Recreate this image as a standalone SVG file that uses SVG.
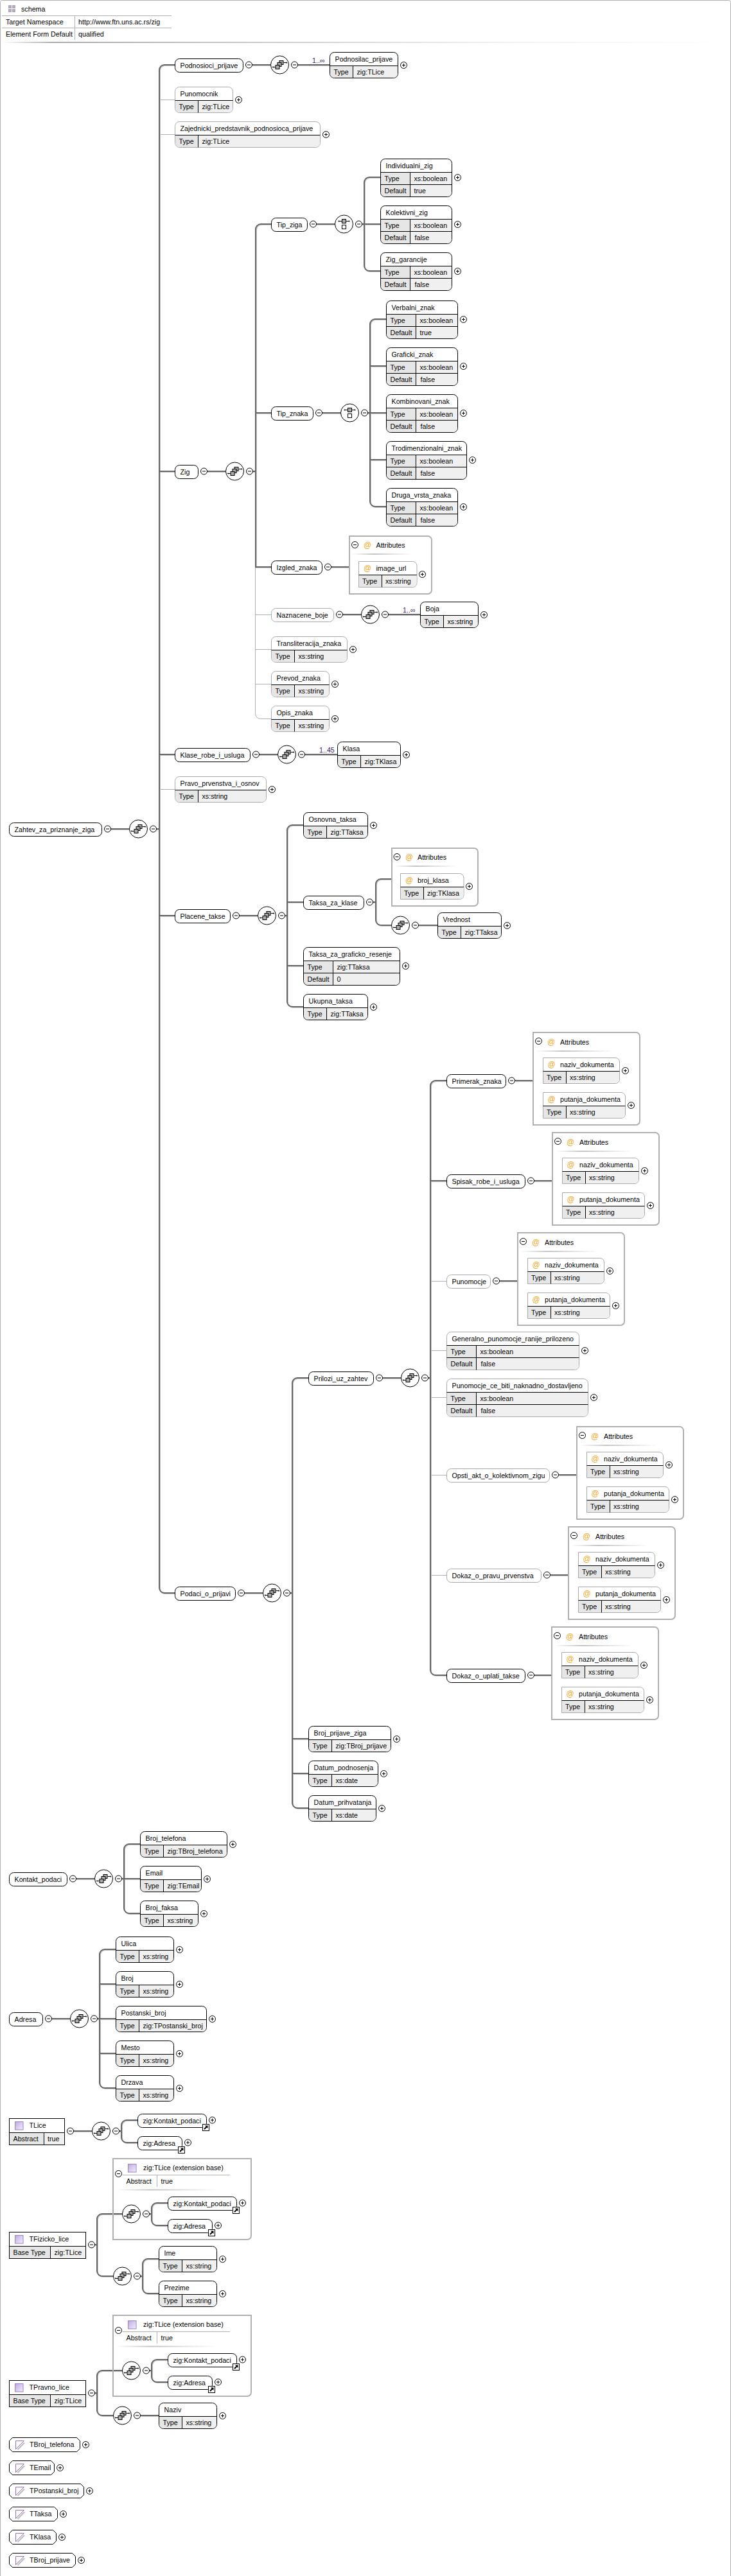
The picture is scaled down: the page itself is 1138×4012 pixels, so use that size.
<svg xmlns="http://www.w3.org/2000/svg" width="1138" height="4012" viewBox="0 0 1138 4012">
<style>
text{font-family:"Liberation Sans",Arial,sans-serif;font-size:10.7px;fill:#000}
.b{fill:#fff;stroke-width:1}
.r .b{stroke:#000}
.o .b{stroke:#aaa}
.v{fill:#f0f0f0}
.l{fill:#e6e6e6}
.d{fill:none;stroke:#000}
.c{fill:none;stroke:#666;stroke-width:2;filter:drop-shadow(1px 1px 0 #c8c8c8)}
.t{fill:none;stroke:#b0b0b0}
.x{fill:none;stroke:#b0b0b0;stroke-width:2}
.at{fill:#f5a623;font-size:12px}
.bar{fill:url(#gb)}
.occ{fill:#3c1a6e}
.g{fill:none;stroke:#b0b0b0}
.ts{fill:url(#gp);stroke:#a080c8}
.rc{fill:#fff;stroke:#000}
</style>
<defs>
<linearGradient id="gb"><stop offset="0" stop-color="#fff"/><stop offset=".35" stop-color="#c4c4c4"/><stop offset="1" stop-color="#fff"/></linearGradient>
<linearGradient id="gh"><stop offset="0" stop-color="#fff"/><stop offset=".07" stop-color="#aaa"/><stop offset=".7" stop-color="#f2f2f2"/><stop offset="1" stop-color="#fff"/></linearGradient>
<linearGradient id="gp" x1="0" y1="0" x2="1" y2="1"><stop offset="0" stop-color="#bdaae4"/><stop offset="1" stop-color="#f4f0fa"/></linearGradient>
<g id="p"><circle r="5" fill="#fff" stroke="#000"/><path d="M-2.5 0H2.5M0-2.5V2.5" stroke="#000"/></g>
<g id="m"><circle r="5" fill="#fff" stroke="#000"/><path d="M-2.5 0H2.5" stroke="#000"/></g>
<g id="s"><circle r="14" fill="#fff" stroke="#000"/><path d="M-10.5 3.5H-6M6 -3.5H10.5" stroke="#000"/><circle cx="-10.5" cy="3.5" r="1"/><circle cx="10.5" cy="-3.5" r="1"/><rect x="-.5" y="-6.5" width="6" height="6" fill="#aaa" stroke="#000"/><rect x="-3.5" y="-3.5" width="6" height="6" fill="#aaa" stroke="#000"/><rect x="-6.5" y=".5" width="6" height="6" fill="#aaa" stroke="#000"/></g>
<g id="ch"><circle r="14" fill="#fff" stroke="#000"/><path d="M-8 -4.5H8" stroke="#000"/><circle cx="-8" cy="-4.5" r="1"/><circle cx="8" cy="-4.5" r="1"/><rect x="-3" y="-7.5" width="6" height="6" fill="#aaa" stroke="#000"/><rect x="-3" y="1.5" width="6" height="6" fill="#fff" stroke="#000"/></g>
<g id="k"><rect width="10" height="10" fill="#fff" stroke="#000"/><path d="M2.5 7.5L6 4" stroke="#000" stroke-width="2"/><path d="M3.5 2H8V6.5Z"/></g>
<path id="l2" class="l" d="M.5 21H36V39.5H7a6.5 6.5 0 0 1-6.5-6.5z"/>
<path id="l3" class="l" d="M.5 21H46V58.5H7a6.5 6.5 0 0 1-6.5-6.5z"/>
<g id="st"><path d="M0 13V0H13Z" fill="#fff" stroke="#a070c0"/><path d="M3 13.5L13.5 3" stroke="#bbb" stroke-width="2"/></g>
</defs>

<path class="g" d="M.5 4012V3.5a3 3 0 0 1 3-3H1134.5a3 3 0 0 1 3 3V4012"/>

<g id="schema-header">
<rect x="13" y="8" width="5" height="5" fill="#b4a8bc"/><rect x="19" y="8" width="5" height="5" fill="#b4a8bc"/><rect x="13" y="14" width="5" height="5" fill="#b4a8bc"/><rect x="19" y="14" width="5" height="5" fill="#b4a8bc"/>
<text x="33" y="18">schema</text>
<path class="g" d="M3 24.5H267M3 43.5H267M116.5 24V62"/>
<text x="9" y="37.5">Target Namespace</text><text x="122" y="37.5">http://www.ftn.uns.ac.rs/zig</text>
<text x="9" y="56.5">Element Form Default</text><text x="122" y="56.5">qualified</text>
<rect x="3" y="65" width="1132" height="2" fill="url(#gh)"/>
</g>

<g id="connectors">
<g class="t">
<path d="M248 155.5H272M248 209.5H272M248 1229.5H272"/>
<path d="M397.5 883V1111.5a8 8 0 0 0 8 8H422M397.5 957.5H422M397.5 1011.5H422M397.5 1065.5H422"/>
<path d="M670 1995.5H695M670 2103.5H695M670 2176.5H695M670 2297.5H695M670 2453.5H695"/>
</g>
<g class="c">
<path d="M172 1291H201M243 1291H248"/>
<path d="M272 101H256a8 8 0 0 0-8 8V2473a8 8 0 0 0 8 8h16M248 734H272M248 1175H272M248 1426H272"/>
<path d="M392 101H421M463 101H513"/>
<path d="M322 734H351M393 734H398"/>
<path d="M422 349H406a8 8 0 0 0-8 8V883h24M398 643H422"/>
<path d="M492 349H521M563 349H567"/>
<path d="M592 276H575a8 8 0 0 0-8 8V414a8 8 0 0 0 8 8H592M567 349H592"/>
<path d="M501 643H530M572 643H576"/>
<path d="M601 497H584a8 8 0 0 0-8 8V781a8 8 0 0 0 8 8H601M576 570H601M576 643H601M576 716H601"/>
<path d="M515 883H543"/>
<path d="M533 957H562M604 957H654"/>
<path d="M403 1175H432M474 1175H525"/>
<path d="M372 1426H401M443 1426H447"/>
<path d="M472 1285H455a8 8 0 0 0-8 8V1560a8 8 0 0 0 8 8H472M447 1405H472M447 1504H472"/>
<path d="M580 1405H585M609 1369H593a8 8 0 0 0-8 8V1433a8 8 0 0 0 8 8H609"/>
<path d="M651 1441H681"/>
<path d="M380 2481H409M451 2481H455"/>
<path d="M480 2146H463a8 8 0 0 0-8 8V2808a8 8 0 0 0 8 8H480M455 2708H480M455 2762H480"/>
<path d="M595 2146H624M666 2146H670"/>
<path d="M695 1683H678a8 8 0 0 0-8 8V2601a8 8 0 0 0 8 8H695M670 1839H695"/>
<path d="M802 1683H830M831 1839H860M777 1995H806M870 2297H898M857 2453H885M831 2609H859"/>
<path d="M118 2926H147M189 2926H193"/>
<path d="M218 2872H201a8 8 0 0 0-8 8V2972a8 8 0 0 0 8 8H218M193 2926H218"/>
<path d="M80 3144H109M151 3144H155"/>
<path d="M180 3036H163a8 8 0 0 0-8 8V3244a8 8 0 0 0 8 8H180M155 3090H180M155 3144H180M155 3198H180"/>
<path d="M114 3319H143M185 3319H189"/>
<path d="M214 3302H197a8 8 0 0 0-8 8V3329a8 8 0 0 0 8 8H214"/>
<path d="M147 3496H151M190 3448H159a8 8 0 0 0-8 8V3537a8 8 0 0 0 8 8H176"/>
<path d="M232 3448H236M261 3431H244a8 8 0 0 0-8 8V3458a8 8 0 0 0 8 8H261"/>
<path d="M218 3545H222M247 3518H230a8 8 0 0 0-8 8V3564a8 8 0 0 0 8 8H247"/>
<path d="M147 3727H151M190 3692H159a8 8 0 0 0-8 8V3754a8 8 0 0 0 8 8H176"/>
<path d="M232 3692H236M261 3675H244a8 8 0 0 0-8 8V3702a8 8 0 0 0 8 8H261"/>
<path d="M218 3762H247"/>
</g>
<text class="occ" x="486" y="98">1..∞</text>
<text class="occ" x="627" y="954">1..∞</text>
<text class="occ" x="497" y="1172">1..45</text>
</g>

<g id="compositors">
<g id="c-root"><use href="#s" x="215.5" y="1291"/><use href="#m" x="238.5" y="1291"/></g>
<g id="c-podnosioci"><use href="#s" x="435.5" y="101"/><use href="#m" x="458.5" y="101"/></g>
<g id="c-zig"><use href="#s" x="365.5" y="734"/><use href="#m" x="388.5" y="734"/></g>
<g id="c-tipziga"><use href="#ch" x="535.5" y="349"/><use href="#m" x="558.5" y="349"/></g>
<g id="c-tipznaka"><use href="#ch" x="544.5" y="643"/><use href="#m" x="567.5" y="643"/></g>
<g id="c-boje"><use href="#s" x="576.5" y="957"/><use href="#m" x="599.5" y="957"/></g>
<g id="c-klase"><use href="#s" x="446.5" y="1175"/><use href="#m" x="469.5" y="1175"/></g>
<g id="c-placene"><use href="#s" x="415.5" y="1426"/><use href="#m" x="438.5" y="1426"/></g>
<g id="c-vrednost"><use href="#s" x="623.5" y="1441"/><use href="#m" x="646.5" y="1441"/></g>
<g id="c-podaci"><use href="#s" x="423.5" y="2481"/><use href="#m" x="446.5" y="2481"/></g>
<g id="c-prilozi"><use href="#s" x="638.5" y="2146"/><use href="#m" x="661.5" y="2146"/></g>
<g id="c-kontakt"><use href="#s" x="161.5" y="2926"/><use href="#m" x="184.5" y="2926"/></g>
<g id="c-adresa"><use href="#s" x="123.5" y="3144"/><use href="#m" x="146.5" y="3144"/></g>
<g id="c-tlice"><use href="#s" x="157.5" y="3319"/><use href="#m" x="180.5" y="3319"/></g>
<g id="c-fiz1"><use href="#s" x="204.5" y="3448"/><use href="#m" x="227.5" y="3448"/></g>
<g id="c-fiz2"><use href="#s" x="190.5" y="3545"/><use href="#m" x="213.5" y="3545"/></g>
<g id="c-prav1"><use href="#s" x="204.5" y="3692"/><use href="#m" x="227.5" y="3692"/></g>
<g id="c-prav2"><use href="#s" x="190.5" y="3762"/><use href="#m" x="213.5" y="3762"/></g>
</g>

<g id="Zahtev_za_priznanje_ziga" class="r" transform="translate(14.5 1281.5)"><rect class="b" width="144" height="21" rx="7"/><text x="8" y="14">Zahtev_za_priznanje_ziga</text><use href="#m" x="153" y="9.5"/></g>
<g id="Podnosioci_prijave" class="r" transform="translate(272.5 91.5)"><rect class="b" width="106" height="21" rx="7"/><text x="8" y="14">Podnosioci_prijave</text><use href="#m" x="115" y="9.5"/></g>
<g id="Podnosilac_prijave" class="r" transform="translate(513.5 81.5)"><rect class="b" width="106" height="40" rx="7"/><path class="v" d="M36 21H105.5V33a6.5 6.5 0 0 1-6.5 6.5H36z"/><use href="#l2"/><path class="d" d="M0 21H106M36 21V40"/><text x="8" y="14">Podnosilac_prijave</text><text x="6" y="34">Type</text><text x="42" y="34">zig:TLice</text><use href="#p" x="115" y="20"/></g>
<g id="Punomocnik" class="o" transform="translate(272.5 135.5)"><rect class="b" width="90" height="40" rx="7"/><path class="v" d="M36 21H89.5V33a6.5 6.5 0 0 1-6.5 6.5H36z"/><use href="#l2"/><path class="d" d="M0 21H90M36 21V40"/><text x="8" y="14">Punomocnik</text><text x="6" y="34">Type</text><text x="42" y="34">zig:TLice</text><use href="#p" x="99" y="20"/></g>
<g id="Zajednicki_predstavnik_podnosioca_prijave" class="o" transform="translate(272.5 189.5)"><rect class="b" width="226" height="40" rx="7"/><path class="v" d="M36 21H225.5V33a6.5 6.5 0 0 1-6.5 6.5H36z"/><use href="#l2"/><path class="d" d="M0 21H226M36 21V40"/><text x="8" y="14">Zajednicki_predstavnik_podnosioca_prijave</text><text x="6" y="34">Type</text><text x="42" y="34">zig:TLice</text><use href="#p" x="235" y="20"/></g>
<g id="Zig" class="r" transform="translate(272.5 724.5)"><rect class="b" width="36" height="21" rx="7"/><text x="8" y="14">Zig</text><use href="#m" x="45" y="9.5"/></g>
<g id="Tip_ziga" class="r" transform="translate(422.5 339.5)"><rect class="b" width="56" height="21" rx="7"/><text x="8" y="14">Tip_ziga</text><use href="#m" x="65" y="9.5"/></g>
<g id="Individualni_zig" class="r" transform="translate(592.5 247.5)"><rect class="b" width="111" height="59" rx="7"/><path class="v" d="M46 21H110.5V52a6.5 6.5 0 0 1-6.5 6.5H46z"/><use href="#l3"/><path class="d" d="M0 21H111M0 40H111M46 21V59"/><text x="8" y="14">Individualni_zig</text><text x="6" y="34">Type</text><text x="52" y="34">xs:boolean</text><text x="6" y="53">Default</text><text x="52" y="53">true</text><use href="#p" x="120" y="29"/></g>
<g id="Kolektivni_zig" class="r" transform="translate(592.5 320.5)"><rect class="b" width="111" height="59" rx="7"/><path class="v" d="M46 21H110.5V52a6.5 6.5 0 0 1-6.5 6.5H46z"/><use href="#l3"/><path class="d" d="M0 21H111M0 40H111M46 21V59"/><text x="8" y="14">Kolektivni_zig</text><text x="6" y="34">Type</text><text x="52" y="34">xs:boolean</text><text x="6" y="53">Default</text><text x="53" y="53">false</text><use href="#p" x="120" y="29"/></g>
<g id="Zig_garancije" class="r" transform="translate(592.5 393.5)"><rect class="b" width="111" height="59" rx="7"/><path class="v" d="M46 21H110.5V52a6.5 6.5 0 0 1-6.5 6.5H46z"/><use href="#l3"/><path class="d" d="M0 21H111M0 40H111M46 21V59"/><text x="8" y="14">Zig_garancije</text><text x="6" y="34">Type</text><text x="52" y="34">xs:boolean</text><text x="6" y="53">Default</text><text x="53" y="53">false</text><use href="#p" x="120" y="29"/></g>
<g id="Tip_znaka" class="r" transform="translate(422.5 633.5)"><rect class="b" width="65" height="21" rx="7"/><text x="8" y="14">Tip_znaka</text><use href="#m" x="74" y="9.5"/></g>
<g id="Verbalni_znak" class="r" transform="translate(601.5 468.5)"><rect class="b" width="111" height="59" rx="7"/><path class="v" d="M46 21H110.5V52a6.5 6.5 0 0 1-6.5 6.5H46z"/><use href="#l3"/><path class="d" d="M0 21H111M0 40H111M46 21V59"/><text x="8" y="14">Verbalni_znak</text><text x="6" y="34">Type</text><text x="52" y="34">xs:boolean</text><text x="6" y="53">Default</text><text x="52" y="53">true</text><use href="#p" x="120" y="29"/></g>
<g id="Graficki_znak" class="r" transform="translate(601.5 541.5)"><rect class="b" width="111" height="59" rx="7"/><path class="v" d="M46 21H110.5V52a6.5 6.5 0 0 1-6.5 6.5H46z"/><use href="#l3"/><path class="d" d="M0 21H111M0 40H111M46 21V59"/><text x="8" y="14">Graficki_znak</text><text x="6" y="34">Type</text><text x="52" y="34">xs:boolean</text><text x="6" y="53">Default</text><text x="53" y="53">false</text><use href="#p" x="120" y="29"/></g>
<g id="Kombinovani_znak" class="r" transform="translate(601.5 614.5)"><rect class="b" width="111" height="59" rx="7"/><path class="v" d="M46 21H110.5V52a6.5 6.5 0 0 1-6.5 6.5H46z"/><use href="#l3"/><path class="d" d="M0 21H111M0 40H111M46 21V59"/><text x="8" y="14">Kombinovani_znak</text><text x="6" y="34">Type</text><text x="52" y="34">xs:boolean</text><text x="6" y="53">Default</text><text x="53" y="53">false</text><use href="#p" x="120" y="29"/></g>
<g id="Trodimenzionalni_znak" class="r" transform="translate(601.5 687.5)"><rect class="b" width="125" height="59" rx="7"/><path class="v" d="M46 21H124.5V52a6.5 6.5 0 0 1-6.5 6.5H46z"/><use href="#l3"/><path class="d" d="M0 21H125M0 40H125M46 21V59"/><text x="8" y="14">Trodimenzionalni_znak</text><text x="6" y="34">Type</text><text x="52" y="34">xs:boolean</text><text x="6" y="53">Default</text><text x="53" y="53">false</text><use href="#p" x="134" y="29"/></g>
<g id="Druga_vrsta_znaka" class="r" transform="translate(601.5 760.5)"><rect class="b" width="111" height="59" rx="7"/><path class="v" d="M46 21H110.5V52a6.5 6.5 0 0 1-6.5 6.5H46z"/><use href="#l3"/><path class="d" d="M0 21H111M0 40H111M46 21V59"/><text x="8" y="14">Druga_vrsta_znaka</text><text x="6" y="34">Type</text><text x="52" y="34">xs:boolean</text><text x="6" y="53">Default</text><text x="53" y="53">false</text><use href="#p" x="120" y="29"/></g>
<g id="Izgled_znaka" class="r" transform="translate(422.5 873.5)"><rect class="b" width="79" height="21" rx="7"/><text x="8" y="14">Izgled_znaka</text><use href="#m" x="88" y="9.5"/></g>
<g id="Izgled_znaka_attributes" transform="translate(544 835)"><path class="x" d="M0 0H122a6 6 0 0 1 6 6V84a6 6 0 0 1-6 6H0z"/><use href="#m" x="8.5" y="13.5"/><text class="at" x="22" y="18">@</text><text x="41.5" y="18">Attributes</text><rect class="bar" x="4" y="27" width="95" height="2"/>
<g id="image_url" class="o" transform="translate(14.5 39.5)"><path class="b" d="M0 0H84a6.5 6.5 0 0 1 6.5 6.5V33.5a6.5 6.5 0 0 1-6.5 6.5H0z"/><path class="v" d="M36 21H90V33.5a6 6 0 0 1-6 6H36z"/><path class="l" d="M.5 21H36V39.5H.5z"/><path class="d" d="M0 21H90.5M36 21V40"/><text class="at" x="7.5" y="14.5">@</text><text x="27" y="14.5">image_url</text><text x="5.5" y="34">Type</text><text x="41.5" y="34">xs:string</text><use href="#p" x="99" y="20"/></g></g>
<g id="Naznacene_boje" class="o" transform="translate(422.5 947.5)"><rect class="b" width="97" height="21" rx="7"/><text x="8" y="14">Naznacene_boje</text><use href="#m" x="106" y="9.5"/></g>
<g id="Boja" class="r" transform="translate(654.5 937.5)"><rect class="b" width="90" height="40" rx="7"/><path class="v" d="M36 21H89.5V33a6.5 6.5 0 0 1-6.5 6.5H36z"/><use href="#l2"/><path class="d" d="M0 21H90M36 21V40"/><text x="8" y="14">Boja</text><text x="6" y="34">Type</text><text x="42" y="34">xs:string</text><use href="#p" x="99" y="20"/></g>
<g id="Transliteracija_znaka" class="o" transform="translate(422.5 991.5)"><rect class="b" width="118" height="40" rx="7"/><path class="v" d="M36 21H117.5V33a6.5 6.5 0 0 1-6.5 6.5H36z"/><use href="#l2"/><path class="d" d="M0 21H118M36 21V40"/><text x="8" y="14">Transliteracija_znaka</text><text x="6" y="34">Type</text><text x="42" y="34">xs:string</text><use href="#p" x="127" y="20"/></g>
<g id="Prevod_znaka" class="o" transform="translate(422.5 1045.5)"><rect class="b" width="90" height="40" rx="7"/><path class="v" d="M36 21H89.5V33a6.5 6.5 0 0 1-6.5 6.5H36z"/><use href="#l2"/><path class="d" d="M0 21H90M36 21V40"/><text x="8" y="14">Prevod_znaka</text><text x="6" y="34">Type</text><text x="42" y="34">xs:string</text><use href="#p" x="99" y="20"/></g>
<g id="Opis_znaka" class="o" transform="translate(422.5 1099.5)"><rect class="b" width="90" height="40" rx="7"/><path class="v" d="M36 21H89.5V33a6.5 6.5 0 0 1-6.5 6.5H36z"/><use href="#l2"/><path class="d" d="M0 21H90M36 21V40"/><text x="8" y="14">Opis_znaka</text><text x="6" y="34">Type</text><text x="42" y="34">xs:string</text><use href="#p" x="99" y="20"/></g>
<g id="Klase_robe_i_usluga" class="r" transform="translate(272.5 1165.5)"><rect class="b" width="117" height="21" rx="7"/><text x="8" y="14">Klase_robe_i_usluga</text><use href="#m" x="126" y="9.5"/></g>
<g id="Klasa" class="r" transform="translate(525.5 1155.5)"><rect class="b" width="98" height="40" rx="7"/><path class="v" d="M36 21H97.5V33a6.5 6.5 0 0 1-6.5 6.5H36z"/><use href="#l2"/><path class="d" d="M0 21H98M36 21V40"/><text x="8" y="14">Klasa</text><text x="6" y="34">Type</text><text x="42" y="34">zig:TKlasa</text><use href="#p" x="107" y="20"/></g>
<g id="Pravo_prvenstva_i_osnov" class="o" transform="translate(272.5 1209.5)"><rect class="b" width="142" height="40" rx="7"/><path class="v" d="M36 21H141.5V33a6.5 6.5 0 0 1-6.5 6.5H36z"/><use href="#l2"/><path class="d" d="M0 21H142M36 21V40"/><text x="8" y="14">Pravo_prvenstva_i_osnov</text><text x="6" y="34">Type</text><text x="42" y="34">xs:string</text><use href="#p" x="151" y="20"/></g>
<g id="Placene_takse" class="r" transform="translate(272.5 1416.5)"><rect class="b" width="86" height="21" rx="7"/><text x="8" y="14">Placene_takse</text><use href="#m" x="95" y="9.5"/></g>
<g id="Osnovna_taksa" class="r" transform="translate(472.5 1265.5)"><rect class="b" width="100" height="40" rx="7"/><path class="v" d="M36 21H99.5V33a6.5 6.5 0 0 1-6.5 6.5H36z"/><use href="#l2"/><path class="d" d="M0 21H100M36 21V40"/><text x="8" y="14">Osnovna_taksa</text><text x="6" y="34">Type</text><text x="42" y="34">zig:TTaksa</text><use href="#p" x="109" y="20"/></g>
<g id="Taksa_za_klase" class="r" transform="translate(472.5 1395.5)"><rect class="b" width="94" height="21" rx="7"/><text x="8" y="14">Taksa_za_klase</text><use href="#m" x="103" y="9.5"/></g>
<g id="Taksa_za_klase_attributes" transform="translate(610 1321)"><path class="x" d="M0 0H128a6 6 0 0 1 6 6V84a6 6 0 0 1-6 6H0z"/><use href="#m" x="8" y="13.5"/><text class="at" x="21" y="18">@</text><text x="40" y="18">Attributes</text><rect class="bar" x="3" y="27" width="100" height="2"/>
<g id="broj_klasa" class="o" transform="translate(13.5 39.5)"><path class="b" d="M0 0H92a6.5 6.5 0 0 1 6.5 6.5V33.5a6.5 6.5 0 0 1-6.5 6.5H0z"/><path class="v" d="M36 21H98V33.5a6 6 0 0 1-6 6H36z"/><path class="l" d="M.5 21H36V39.5H.5z"/><path class="d" d="M0 21H98.5M36 21V40"/><text class="at" x="7.5" y="14.5">@</text><text x="26.5" y="14.5">broj_klasa</text><text x="5.5" y="34">Type</text><text x="41.5" y="34">zig:TKlasa</text><use href="#p" x="107" y="20"/></g></g>
<g id="Vrednost" class="r" transform="translate(681.5 1421.5)"><rect class="b" width="99" height="40" rx="7"/><path class="v" d="M36 21H98.5V33a6.5 6.5 0 0 1-6.5 6.5H36z"/><use href="#l2"/><path class="d" d="M0 21H99M36 21V40"/><text x="8" y="14">Vrednost</text><text x="6" y="34">Type</text><text x="42" y="34">zig:TTaksa</text><use href="#p" x="108" y="20"/></g>
<g id="Taksa_za_graficko_resenje" class="r" transform="translate(472.5 1475.5)"><rect class="b" width="150" height="59" rx="7"/><path class="v" d="M46 21H149.5V52a6.5 6.5 0 0 1-6.5 6.5H46z"/><use href="#l3"/><path class="d" d="M0 21H150M0 40H150M46 21V59"/><text x="8" y="14">Taksa_za_graficko_resenje</text><text x="6" y="34">Type</text><text x="52" y="34">zig:TTaksa</text><text x="6" y="53">Default</text><text x="52" y="53">0</text><use href="#p" x="159" y="29"/></g>
<g id="Ukupna_taksa" class="r" transform="translate(472.5 1548.5)"><rect class="b" width="100" height="40" rx="7"/><path class="v" d="M36 21H99.5V33a6.5 6.5 0 0 1-6.5 6.5H36z"/><use href="#l2"/><path class="d" d="M0 21H100M36 21V40"/><text x="8" y="14">Ukupna_taksa</text><text x="6" y="34">Type</text><text x="42" y="34">zig:TTaksa</text><use href="#p" x="109" y="20"/></g>
<g id="Podaci_o_prijavi" class="r" transform="translate(272.5 2471.5)"><rect class="b" width="94" height="21" rx="7"/><text x="8" y="14">Podaci_o_prijavi</text><use href="#m" x="103" y="9.5"/></g>
<g id="Prilozi_uz_zahtev" class="r" transform="translate(480.5 2136.5)"><rect class="b" width="101" height="21" rx="7"/><text x="8" y="14">Prilozi_uz_zahtev</text><use href="#m" x="110" y="9.5"/></g>

<g id="Primerak_znaka" class="r" transform="translate(695.5 1673.5)"><rect class="b" width="92" height="21" rx="7"/><text x="8" y="14">Primerak_znaka</text><use href="#m" x="101" y="9.5"/></g>
<g id="Primerak_znaka_attributes" transform="translate(830 1608)"><path class="x" d="M0 0H160a6 6 0 0 1 6 6V138a6 6 0 0 1-6 6H0z"/><use href="#m" x="8.5" y="13.5"/><text class="at" x="22" y="18.5">@</text><text x="42" y="18.5">Attributes</text><rect class="bar" x="4" y="28" width="122" height="2"/>
<g class="o" transform="translate(15.5 39.5)"><path class="b" d="M0 0H112.5a6.5 6.5 0 0 1 6.5 6.5V33.5a6.5 6.5 0 0 1-6.5 6.5H0z"/><path class="v" d="M36 21H118.5V33.5a6 6 0 0 1-6 6H36z"/><path class="l" d="M.5 21H36V39.5H.5z"/><path class="d" d="M0 21H119M36 21V40"/><text class="at" x="7" y="14.5">@</text><text x="26.5" y="14.5">naziv_dokumenta</text><text x="5.5" y="34">Type</text><text x="41.5" y="34">xs:string</text><use href="#p" x="128" y="20"/></g>
<g class="o" transform="translate(15.5 93.5)"><path class="b" d="M0 0H121.5a6.5 6.5 0 0 1 6.5 6.5V33.5a6.5 6.5 0 0 1-6.5 6.5H0z"/><path class="v" d="M36 21H127.5V33.5a6 6 0 0 1-6 6H36z"/><path class="l" d="M.5 21H36V39.5H.5z"/><path class="d" d="M0 21H128M36 21V40"/><text class="at" x="7" y="14.5">@</text><text x="26.5" y="14.5">putanja_dokumenta</text><text x="5.5" y="34">Type</text><text x="41.5" y="34">xs:string</text><use href="#p" x="137" y="20"/></g></g>

<g id="Spisak_robe_i_usluga" class="r" transform="translate(695.5 1829.5)"><rect class="b" width="122" height="21" rx="7"/><text x="8" y="14">Spisak_robe_i_usluga</text><use href="#m" x="131" y="9.5"/></g>
<g id="Spisak_robe_i_usluga_attributes" transform="translate(860 1764)"><path class="x" d="M0 0H160a6 6 0 0 1 6 6V138a6 6 0 0 1-6 6H0z"/><use href="#m" x="8.5" y="13.5"/><text class="at" x="22" y="18.5">@</text><text x="42" y="18.5">Attributes</text><rect class="bar" x="4" y="28" width="122" height="2"/>
<g class="o" transform="translate(15.5 39.5)"><path class="b" d="M0 0H112.5a6.5 6.5 0 0 1 6.5 6.5V33.5a6.5 6.5 0 0 1-6.5 6.5H0z"/><path class="v" d="M36 21H118.5V33.5a6 6 0 0 1-6 6H36z"/><path class="l" d="M.5 21H36V39.5H.5z"/><path class="d" d="M0 21H119M36 21V40"/><text class="at" x="7" y="14.5">@</text><text x="26.5" y="14.5">naziv_dokumenta</text><text x="5.5" y="34">Type</text><text x="41.5" y="34">xs:string</text><use href="#p" x="128" y="20"/></g>
<g class="o" transform="translate(15.5 93.5)"><path class="b" d="M0 0H121.5a6.5 6.5 0 0 1 6.5 6.5V33.5a6.5 6.5 0 0 1-6.5 6.5H0z"/><path class="v" d="M36 21H127.5V33.5a6 6 0 0 1-6 6H36z"/><path class="l" d="M.5 21H36V39.5H.5z"/><path class="d" d="M0 21H128M36 21V40"/><text class="at" x="7" y="14.5">@</text><text x="26.5" y="14.5">putanja_dokumenta</text><text x="5.5" y="34">Type</text><text x="41.5" y="34">xs:string</text><use href="#p" x="137" y="20"/></g></g>

<g id="Punomocje" class="o" transform="translate(695.5 1985.5)"><rect class="b" width="68" height="21" rx="7"/><text x="8" y="14">Punomocje</text><use href="#m" x="77" y="9.5"/></g>
<g id="Punomocje_attributes" transform="translate(806 1920)"><path class="x" d="M0 0H160a6 6 0 0 1 6 6V138a6 6 0 0 1-6 6H0z"/><use href="#m" x="8.5" y="13.5"/><text class="at" x="22" y="18.5">@</text><text x="42" y="18.5">Attributes</text><rect class="bar" x="4" y="28" width="122" height="2"/>
<g class="o" transform="translate(15.5 39.5)"><path class="b" d="M0 0H112.5a6.5 6.5 0 0 1 6.5 6.5V33.5a6.5 6.5 0 0 1-6.5 6.5H0z"/><path class="v" d="M36 21H118.5V33.5a6 6 0 0 1-6 6H36z"/><path class="l" d="M.5 21H36V39.5H.5z"/><path class="d" d="M0 21H119M36 21V40"/><text class="at" x="7" y="14.5">@</text><text x="26.5" y="14.5">naziv_dokumenta</text><text x="5.5" y="34">Type</text><text x="41.5" y="34">xs:string</text><use href="#p" x="128" y="20"/></g>
<g class="o" transform="translate(15.5 93.5)"><path class="b" d="M0 0H121.5a6.5 6.5 0 0 1 6.5 6.5V33.5a6.5 6.5 0 0 1-6.5 6.5H0z"/><path class="v" d="M36 21H127.5V33.5a6 6 0 0 1-6 6H36z"/><path class="l" d="M.5 21H36V39.5H.5z"/><path class="d" d="M0 21H128M36 21V40"/><text class="at" x="7" y="14.5">@</text><text x="26.5" y="14.5">putanja_dokumenta</text><text x="5.5" y="34">Type</text><text x="41.5" y="34">xs:string</text><use href="#p" x="137" y="20"/></g></g>

<g id="Generalno_punomocje_ranije_prilozeno" class="o" transform="translate(695.5 2074.5)"><rect class="b" width="206" height="59" rx="7"/><path class="v" d="M46 21H205.5V52a6.5 6.5 0 0 1-6.5 6.5H46z"/><use href="#l3"/><path class="d" d="M0 21H206M0 40H206M46 21V59"/><text x="8" y="14">Generalno_punomocje_ranije_prilozeno</text><text x="6" y="34">Type</text><text x="52" y="34">xs:boolean</text><text x="6" y="53">Default</text><text x="53" y="53">false</text><use href="#p" x="215" y="29"/></g>
<g id="Punomocje_ce_biti_naknadno_dostavljeno" class="o" transform="translate(695.5 2147.5)"><rect class="b" width="220" height="59" rx="7"/><path class="v" d="M46 21H219.5V52a6.5 6.5 0 0 1-6.5 6.5H46z"/><use href="#l3"/><path class="d" d="M0 21H220M0 40H220M46 21V59"/><text x="8" y="14">Punomocje_ce_biti_naknadno_dostavljeno</text><text x="6" y="34">Type</text><text x="52" y="34">xs:boolean</text><text x="6" y="53">Default</text><text x="53" y="53">false</text><use href="#p" x="229" y="29"/></g>

<g id="Opsti_akt_o_kolektivnom_zigu" class="o" transform="translate(695.5 2287.5)"><rect class="b" width="160" height="21" rx="7"/><text x="8" y="14">Opsti_akt_o_kolektivnom_zigu</text><use href="#m" x="169" y="9.5"/></g>
<g id="Opsti_akt_attributes" transform="translate(898 2222)"><path class="x" d="M0 0H160a6 6 0 0 1 6 6V138a6 6 0 0 1-6 6H0z"/><use href="#m" x="8.5" y="13.5"/><text class="at" x="22" y="18.5">@</text><text x="42" y="18.5">Attributes</text><rect class="bar" x="4" y="28" width="122" height="2"/>
<g class="o" transform="translate(15.5 39.5)"><path class="b" d="M0 0H112.5a6.5 6.5 0 0 1 6.5 6.5V33.5a6.5 6.5 0 0 1-6.5 6.5H0z"/><path class="v" d="M36 21H118.5V33.5a6 6 0 0 1-6 6H36z"/><path class="l" d="M.5 21H36V39.5H.5z"/><path class="d" d="M0 21H119M36 21V40"/><text class="at" x="7" y="14.5">@</text><text x="26.5" y="14.5">naziv_dokumenta</text><text x="5.5" y="34">Type</text><text x="41.5" y="34">xs:string</text><use href="#p" x="128" y="20"/></g>
<g class="o" transform="translate(15.5 93.5)"><path class="b" d="M0 0H121.5a6.5 6.5 0 0 1 6.5 6.5V33.5a6.5 6.5 0 0 1-6.5 6.5H0z"/><path class="v" d="M36 21H127.5V33.5a6 6 0 0 1-6 6H36z"/><path class="l" d="M.5 21H36V39.5H.5z"/><path class="d" d="M0 21H128M36 21V40"/><text class="at" x="7" y="14.5">@</text><text x="26.5" y="14.5">putanja_dokumenta</text><text x="5.5" y="34">Type</text><text x="41.5" y="34">xs:string</text><use href="#p" x="137" y="20"/></g></g>

<g id="Dokaz_o_pravu_prvenstva" class="o" transform="translate(695.5 2443.5)"><rect class="b" width="147" height="21" rx="7"/><text x="8" y="14">Dokaz_o_pravu_prvenstva</text><use href="#m" x="156" y="9.5"/></g>
<g id="Dokaz_o_pravu_attributes" transform="translate(885 2378)"><path class="x" d="M0 0H160a6 6 0 0 1 6 6V138a6 6 0 0 1-6 6H0z"/><use href="#m" x="8.5" y="13.5"/><text class="at" x="22" y="18.5">@</text><text x="42" y="18.5">Attributes</text><rect class="bar" x="4" y="28" width="122" height="2"/>
<g class="o" transform="translate(15.5 39.5)"><path class="b" d="M0 0H112.5a6.5 6.5 0 0 1 6.5 6.5V33.5a6.5 6.5 0 0 1-6.5 6.5H0z"/><path class="v" d="M36 21H118.5V33.5a6 6 0 0 1-6 6H36z"/><path class="l" d="M.5 21H36V39.5H.5z"/><path class="d" d="M0 21H119M36 21V40"/><text class="at" x="7" y="14.5">@</text><text x="26.5" y="14.5">naziv_dokumenta</text><text x="5.5" y="34">Type</text><text x="41.5" y="34">xs:string</text><use href="#p" x="128" y="20"/></g>
<g class="o" transform="translate(15.5 93.5)"><path class="b" d="M0 0H121.5a6.5 6.5 0 0 1 6.5 6.5V33.5a6.5 6.5 0 0 1-6.5 6.5H0z"/><path class="v" d="M36 21H127.5V33.5a6 6 0 0 1-6 6H36z"/><path class="l" d="M.5 21H36V39.5H.5z"/><path class="d" d="M0 21H128M36 21V40"/><text class="at" x="7" y="14.5">@</text><text x="26.5" y="14.5">putanja_dokumenta</text><text x="5.5" y="34">Type</text><text x="41.5" y="34">xs:string</text><use href="#p" x="137" y="20"/></g></g>

<g id="Dokaz_o_uplati_takse" class="r" transform="translate(695.5 2599.5)"><rect class="b" width="122" height="21" rx="7"/><text x="8" y="14">Dokaz_o_uplati_takse</text><use href="#m" x="131" y="9.5"/></g>
<g id="Dokaz_o_uplati_attributes" transform="translate(859 2534)"><path class="x" d="M0 0H160a6 6 0 0 1 6 6V138a6 6 0 0 1-6 6H0z"/><use href="#m" x="8.5" y="13.5"/><text class="at" x="22" y="18.5">@</text><text x="42" y="18.5">Attributes</text><rect class="bar" x="4" y="28" width="122" height="2"/>
<g class="o" transform="translate(15.5 39.5)"><path class="b" d="M0 0H112.5a6.5 6.5 0 0 1 6.5 6.5V33.5a6.5 6.5 0 0 1-6.5 6.5H0z"/><path class="v" d="M36 21H118.5V33.5a6 6 0 0 1-6 6H36z"/><path class="l" d="M.5 21H36V39.5H.5z"/><path class="d" d="M0 21H119M36 21V40"/><text class="at" x="7" y="14.5">@</text><text x="26.5" y="14.5">naziv_dokumenta</text><text x="5.5" y="34">Type</text><text x="41.5" y="34">xs:string</text><use href="#p" x="128" y="20"/></g>
<g class="o" transform="translate(15.5 93.5)"><path class="b" d="M0 0H121.5a6.5 6.5 0 0 1 6.5 6.5V33.5a6.5 6.5 0 0 1-6.5 6.5H0z"/><path class="v" d="M36 21H127.5V33.5a6 6 0 0 1-6 6H36z"/><path class="l" d="M.5 21H36V39.5H.5z"/><path class="d" d="M0 21H128M36 21V40"/><text class="at" x="7" y="14.5">@</text><text x="26.5" y="14.5">putanja_dokumenta</text><text x="5.5" y="34">Type</text><text x="41.5" y="34">xs:string</text><use href="#p" x="137" y="20"/></g></g>

<g id="Broj_prijave_ziga" class="r" transform="translate(480.5 2688.5)"><rect class="b" width="128" height="40" rx="7"/><path class="v" d="M36 21H127.5V33a6.5 6.5 0 0 1-6.5 6.5H36z"/><use href="#l2"/><path class="d" d="M0 21H128M36 21V40"/><text x="8" y="14">Broj_prijave_ziga</text><text x="6" y="34">Type</text><text x="42" y="34">zig:TBroj_prijave</text><use href="#p" x="137" y="20"/></g>
<g id="Datum_podnosenja" class="r" transform="translate(480.5 2742.5)"><rect class="b" width="108" height="40" rx="7"/><path class="v" d="M36 21H107.5V33a6.5 6.5 0 0 1-6.5 6.5H36z"/><use href="#l2"/><path class="d" d="M0 21H108M36 21V40"/><text x="8" y="14">Datum_podnosenja</text><text x="6" y="34">Type</text><text x="42" y="34">xs:date</text><use href="#p" x="117" y="20"/></g>
<g id="Datum_prihvatanja" class="r" transform="translate(480.5 2796.5)"><rect class="b" width="105" height="40" rx="7"/><path class="v" d="M36 21H104.5V33a6.5 6.5 0 0 1-6.5 6.5H36z"/><use href="#l2"/><path class="d" d="M0 21H105M36 21V40"/><text x="8" y="14">Datum_prihvatanja</text><text x="6" y="34">Type</text><text x="42" y="34">xs:date</text><use href="#p" x="114" y="20"/></g>

<g id="Kontakt_podaci" class="r" transform="translate(14.5 2916.5)"><rect class="b" width="90" height="21" rx="7"/><text x="8" y="14">Kontakt_podaci</text><use href="#m" x="99" y="9.5"/></g>
<g id="Broj_telefona" class="r" transform="translate(218.5 2852.5)"><rect class="b" width="135" height="40" rx="7"/><path class="v" d="M36 21H134.5V33a6.5 6.5 0 0 1-6.5 6.5H36z"/><use href="#l2"/><path class="d" d="M0 21H135M36 21V40"/><text x="8" y="14">Broj_telefona</text><text x="6" y="34">Type</text><text x="42" y="34">zig:TBroj_telefona</text><use href="#p" x="144" y="20"/></g>
<g id="Email" class="r" transform="translate(218.5 2906.5)"><rect class="b" width="95" height="40" rx="7"/><path class="v" d="M36 21H94.5V33a6.5 6.5 0 0 1-6.5 6.5H36z"/><use href="#l2"/><path class="d" d="M0 21H95M36 21V40"/><text x="8" y="14">Email</text><text x="6" y="34">Type</text><text x="42" y="34">zig:TEmail</text><use href="#p" x="104" y="20"/></g>
<g id="Broj_faksa" class="r" transform="translate(218.5 2960.5)"><rect class="b" width="90" height="40" rx="7"/><path class="v" d="M36 21H89.5V33a6.5 6.5 0 0 1-6.5 6.5H36z"/><use href="#l2"/><path class="d" d="M0 21H90M36 21V40"/><text x="8" y="14">Broj_faksa</text><text x="6" y="34">Type</text><text x="42" y="34">xs:string</text><use href="#p" x="99" y="20"/></g>

<g id="Adresa" class="r" transform="translate(14.5 3134.5)"><rect class="b" width="52" height="21" rx="7"/><text x="8" y="14">Adresa</text><use href="#m" x="61" y="9.5"/></g>
<g id="Ulica" class="r" transform="translate(180.5 3016.5)"><rect class="b" width="90" height="40" rx="7"/><path class="v" d="M36 21H89.5V33a6.5 6.5 0 0 1-6.5 6.5H36z"/><use href="#l2"/><path class="d" d="M0 21H90M36 21V40"/><text x="8" y="14">Ulica</text><text x="6" y="34">Type</text><text x="42" y="34">xs:string</text><use href="#p" x="99" y="20"/></g>
<g id="Broj" class="r" transform="translate(180.5 3070.5)"><rect class="b" width="90" height="40" rx="7"/><path class="v" d="M36 21H89.5V33a6.5 6.5 0 0 1-6.5 6.5H36z"/><use href="#l2"/><path class="d" d="M0 21H90M36 21V40"/><text x="8" y="14">Broj</text><text x="6" y="34">Type</text><text x="42" y="34">xs:string</text><use href="#p" x="99" y="20"/></g>
<g id="Postanski_broj" class="r" transform="translate(180.5 3124.5)"><rect class="b" width="141" height="40" rx="7"/><path class="v" d="M36 21H140.5V33a6.5 6.5 0 0 1-6.5 6.5H36z"/><use href="#l2"/><path class="d" d="M0 21H141M36 21V40"/><text x="8" y="14">Postanski_broj</text><text x="6" y="34">Type</text><text x="42" y="34">zig:TPostanski_broj</text><use href="#p" x="150" y="20"/></g>
<g id="Mesto" class="r" transform="translate(180.5 3178.5)"><rect class="b" width="90" height="40" rx="7"/><path class="v" d="M36 21H89.5V33a6.5 6.5 0 0 1-6.5 6.5H36z"/><use href="#l2"/><path class="d" d="M0 21H90M36 21V40"/><text x="8" y="14">Mesto</text><text x="6" y="34">Type</text><text x="42" y="34">xs:string</text><use href="#p" x="99" y="20"/></g>
<g id="Drzava" class="r" transform="translate(180.5 3232.5)"><rect class="b" width="90" height="40" rx="7"/><path class="v" d="M36 21H89.5V33a6.5 6.5 0 0 1-6.5 6.5H36z"/><use href="#l2"/><path class="d" d="M0 21H90M36 21V40"/><text x="8" y="14">Drzava</text><text x="6" y="34">Type</text><text x="42" y="34">xs:string</text><use href="#p" x="99" y="20"/></g>

<g id="TLice" transform="translate(14.5 3299.5)"><rect class="rc" width="86" height="41"/><rect class="l" x=".5" y="22" width="53.5" height="18.5"/><rect class="v" x="54" y="22" width="31.5" height="18.5"/><path class="d" d="M0 22H86M54 22V41"/><rect class="ts" x="9" y="5" width="12.5" height="12.5"/><text x="31" y="14.5">TLice</text><text x="6" y="35">Abstract</text><text x="59.5" y="35">true</text><use href="#m" x="95" y="19.5"/></g>
<g id="ref-Kontakt_podaci-1" class="r" transform="translate(214.5 3292.5)"><rect class="b" width="107" height="21" rx="7"/><text x="8" y="14">zig:Kontakt_podaci</text><use href="#k" x="101" y="16"/><use href="#p" x="116" y="9.5"/></g>
<g id="ref-Adresa-1" class="r" transform="translate(214.5 3327.5)"><rect class="b" width="69" height="21" rx="7"/><text x="8" y="14">zig:Adresa</text><use href="#k" x="63" y="16"/><use href="#p" x="78" y="9.5"/></g>

<g id="TFizicko_lice" transform="translate(14.5 3476.5)"><rect class="rc" width="119" height="41"/><rect class="l" x=".5" y="22" width="63.5" height="18.5"/><rect class="v" x="64" y="22" width="54.5" height="18.5"/><path class="d" d="M0 22H119M64 22V41"/><rect class="ts" x="9" y="5" width="12.5" height="12.5"/><text x="31" y="14.5">TFizicko_lice</text><text x="6" y="35">Base Type</text><text x="70" y="35">zig:TLice</text><use href="#m" x="128" y="19.5"/></g>
<g id="TFizicko_extension" transform="translate(176 3362)"><path class="x" d="M0 0H215V120a6 6 0 0 1-6 6H0z"/><use href="#m" x="8.5" y="23.5"/><rect class="ts" x="23.5" y="8.5" width="12.5" height="12.5"/><text x="47" y="18">zig:TLice (extension base)</text><path class="g" d="M15 25.5H182M68.5 25.5V44"/><text x="20.5" y="39">Abstract</text><text x="74.5" y="39">true</text><rect class="bar" x="4" y="47.5" width="160" height="2"/>
<g id="ref-Kontakt_podaci-2" class="r" transform="translate(85.5 59.5)"><rect class="b" width="107" height="21" rx="7"/><text x="8" y="14">zig:Kontakt_podaci</text><use href="#k" x="101" y="16"/><use href="#p" x="116" y="9.5"/></g>
<g id="ref-Adresa-2" class="r" transform="translate(85.5 94.5)"><rect class="b" width="69" height="21" rx="7"/><text x="8" y="14">zig:Adresa</text><use href="#k" x="63" y="16"/><use href="#p" x="78" y="9.5"/></g></g>
<g id="Ime" class="r" transform="translate(247.5 3498.5)"><rect class="b" width="90" height="40" rx="7"/><path class="v" d="M36 21H89.5V33a6.5 6.5 0 0 1-6.5 6.5H36z"/><use href="#l2"/><path class="d" d="M0 21H90M36 21V40"/><text x="8" y="14">Ime</text><text x="6" y="34">Type</text><text x="42" y="34">xs:string</text><use href="#p" x="99" y="20"/></g>
<g id="Prezime" class="r" transform="translate(247.5 3552.5)"><rect class="b" width="90" height="40" rx="7"/><path class="v" d="M36 21H89.5V33a6.5 6.5 0 0 1-6.5 6.5H36z"/><use href="#l2"/><path class="d" d="M0 21H90M36 21V40"/><text x="8" y="14">Prezime</text><text x="6" y="34">Type</text><text x="42" y="34">xs:string</text><use href="#p" x="99" y="20"/></g>

<g id="TPravno_lice" transform="translate(14.5 3707.5)"><rect class="rc" width="119" height="41"/><rect class="l" x=".5" y="22" width="63.5" height="18.5"/><rect class="v" x="64" y="22" width="54.5" height="18.5"/><path class="d" d="M0 22H119M64 22V41"/><rect class="ts" x="9" y="5" width="12.5" height="12.5"/><text x="31" y="14.5">TPravno_lice</text><text x="6" y="35">Base Type</text><text x="70" y="35">zig:TLice</text><use href="#m" x="128" y="19.5"/></g>
<g id="TPravno_extension" transform="translate(176 3606)"><path class="x" d="M0 0H215V120a6 6 0 0 1-6 6H0z"/><use href="#m" x="8.5" y="23.5"/><rect class="ts" x="23.5" y="8.5" width="12.5" height="12.5"/><text x="47" y="18">zig:TLice (extension base)</text><path class="g" d="M15 25.5H182M68.5 25.5V44"/><text x="20.5" y="39">Abstract</text><text x="74.5" y="39">true</text><rect class="bar" x="4" y="47.5" width="160" height="2"/>
<g id="ref-Kontakt_podaci-3" class="r" transform="translate(85.5 59.5)"><rect class="b" width="107" height="21" rx="7"/><text x="8" y="14">zig:Kontakt_podaci</text><use href="#k" x="101" y="16"/><use href="#p" x="116" y="9.5"/></g>
<g id="ref-Adresa-3" class="r" transform="translate(85.5 94.5)"><rect class="b" width="69" height="21" rx="7"/><text x="8" y="14">zig:Adresa</text><use href="#k" x="63" y="16"/><use href="#p" x="78" y="9.5"/></g></g>
<g id="Naziv" class="r" transform="translate(247.5 3742.5)"><rect class="b" width="90" height="40" rx="7"/><path class="v" d="M36 21H89.5V33a6.5 6.5 0 0 1-6.5 6.5H36z"/><use href="#l2"/><path class="d" d="M0 21H90M36 21V40"/><text x="8" y="14">Naziv</text><text x="6" y="34">Type</text><text x="42" y="34">xs:string</text><use href="#p" x="99" y="20"/></g>

<g id="TBroj_telefona" class="r" transform="translate(14.5 3796.5)"><path class="b" d="M5 0H105L110 5V17L105 22H5L0 17V5Z"/><use href="#st" x="10" y="5"/><text x="31.5" y="14">TBroj_telefona</text><use href="#p" x="119" y="11"/></g>
<g id="TEmail" class="r" transform="translate(14.5 3832.5)"><path class="b" d="M5 0H65L70 5V17L65 22H5L0 17V5Z"/><use href="#st" x="10" y="5"/><text x="31.5" y="14">TEmail</text><use href="#p" x="79" y="11"/></g>
<g id="TPostanski_broj" class="r" transform="translate(14.5 3868.5)"><path class="b" d="M5 0H111L116 5V17L111 22H5L0 17V5Z"/><use href="#st" x="10" y="5"/><text x="31.5" y="14">TPostanski_broj</text><use href="#p" x="125" y="11"/></g>
<g id="TTaksa" class="r" transform="translate(14.5 3904.5)"><path class="b" d="M5 0H70L75 5V17L70 22H5L0 17V5Z"/><use href="#st" x="10" y="5"/><text x="31.5" y="14">TTaksa</text><use href="#p" x="84" y="11"/></g>
<g id="TKlasa" class="r" transform="translate(14.5 3940.5)"><path class="b" d="M5 0H68L73 5V17L68 22H5L0 17V5Z"/><use href="#st" x="10" y="5"/><text x="31.5" y="14">TKlasa</text><use href="#p" x="82" y="11"/></g>
<g id="TBroj_prijave" class="r" transform="translate(14.5 3976.5)"><path class="b" d="M5 0H98L103 5V17L98 22H5L0 17V5Z"/><use href="#st" x="10" y="5"/><text x="31.5" y="14">TBroj_prijave</text><use href="#p" x="112" y="11"/></g>
</svg>
